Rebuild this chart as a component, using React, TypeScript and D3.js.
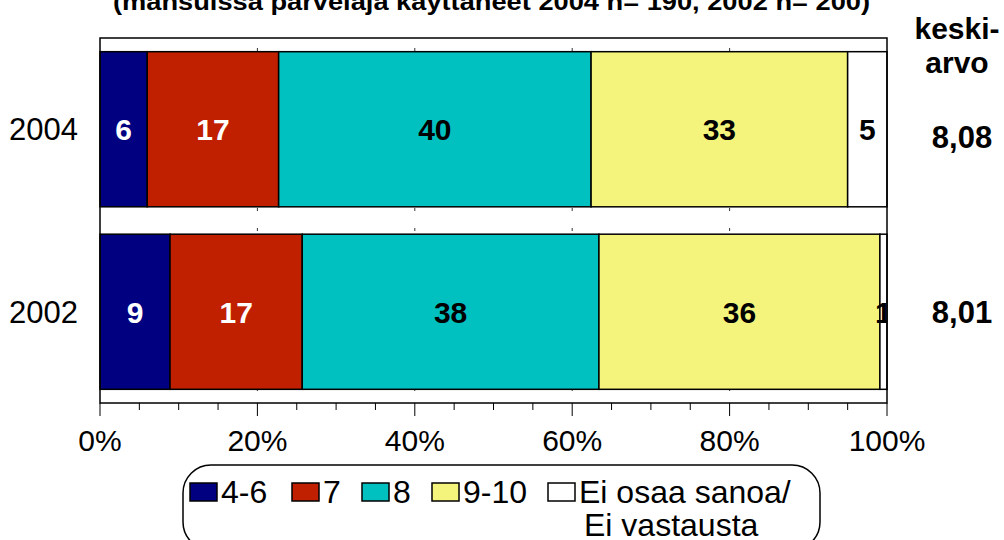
import React from 'react';
import * as d3 from 'd3';

const years = ['2004', '2002'];
const categories = ['4-6', '7', '8', '9-10', 'Ei osaa sanoa/\nEi vastausta'];
const values2004 = [6.0, 16.7, 39.7, 32.6, 5.0];
const values2002 = [8.9, 16.8, 37.7, 35.7, 0.9];
const labels2004 = ['6', '17', '40', '33', '5'];
const labels2002 = ['9', '17', '38', '36', '1'];
const means = ['8,08', '8,01'];
const meanHeader = ['keski-', 'arvo'];
const xTickValues = [0, 20, 40, 60, 80, 100];
const title = '(mansuissa parvelaja käyttäneet 2004 n= 190, 2002 n= 200)';

const colors = ['#000080', '#C02000', '#00C0C0', '#F4F47C', '#FFFFFF'];
const labelColors = ['#FFFFFF', '#FFFFFF', '#000000', '#000000', '#000000'];

const FONT = '"Liberation Sans", Arial, sans-serif';

export default function App() {
  const W = 1004, H = 540;
  const left = 100, right = 887, top = 38, bottom = 403;
  const x = d3.scaleLinear().domain([0, 100]).range([left, right]);
  const y = d3.scaleBand<string>().domain(years).range([top, bottom]).paddingInner(0.15).paddingOuter(0.075);

  const rows = [values2004, values2002].map((vals, i) => {
    const o: any = { year: years[i] };
    vals.forEach((v, j) => (o['c' + j] = v));
    return o;
  });
  const keys = categories.map((_, j) => 'c' + j);
  const stacked = d3.stack().keys(keys)(rows);
  const labels = [labels2004, labels2002];

  const minorTicks = d3.range(0, 101, 5);
  const gridTicks = xTickValues.filter(t => t > 0 && t < 100);

  const legendSwatchX = [190, 292, 362, 432, 548];
  const bw = y.bandwidth();

  return (
    <svg width={W} height={H} style={{ position: 'absolute', left: 0, top: 0, background: '#fff' }} fontFamily={FONT}>
      <defs>
        <clipPath id="plotClip">
          <rect x={left} y={top} width={right - left} height={bottom - top} />
        </clipPath>
      </defs>
      <rect x={0} y={0} width={W} height={H} fill="#fff" />
      <text x={113} y={10} fontSize={24} fontWeight="bold" textLength={757} lengthAdjust="spacingAndGlyphs">{title}</text>

      {/* gridlines */}
      {gridTicks.map(t => (
        <line key={'g' + t} x1={x(t)} x2={x(t)} y1={top + 2} y2={bottom} stroke="#333" strokeWidth={1} strokeDasharray="3,17" strokeDashoffset={-8} />
      ))}

      {/* bars */}
      {stacked.map((series, j) => (
        <g key={series.key}>
          {series.map((d: any, i: number) => (
            <rect key={i} x={x(d[0])} y={y(years[i])} width={x(d[1]) - x(d[0])} height={bw}
              fill={colors[j]} stroke="#000" strokeWidth={1.5} />
          ))}
        </g>
      ))}

      {/* segment labels */}
      <g clipPath="url(#plotClip)">
        {stacked.map((series, j) => (
          <g key={'l' + series.key}>
            {series.map((d: any, i: number) => (
              <text key={i} x={(x(d[0]) + x(d[1])) / 2} y={(y(years[i]) as number) + bw / 2 + 11}
                textAnchor="middle" fontSize={30} fontWeight="bold" fill={labelColors[j]}>{labels[i][j]}</text>
            ))}
          </g>
        ))}
      </g>

      {/* plot border */}
      <rect x={left} y={top} width={right - left} height={bottom - top} fill="none" stroke="#000" strokeWidth={1.5} />

      {/* x axis ticks */}
      {minorTicks.map(t => (
        <line key={'t' + t} x1={x(t)} x2={x(t)} y1={bottom} y2={bottom + (t % 20 === 0 ? 13 : 7)} stroke="#000" strokeWidth={1} />
      ))}
      {xTickValues.map(t => (
        <text key={'tl' + t} x={x(t)} y={451} textAnchor="middle" fontSize={30}>{t + '%'}</text>
      ))}

      {/* year labels */}
      {years.map(yr => (
        <text key={yr} x={78} y={(y(yr) as number) + bw / 2 + 11} textAnchor="end" fontSize={31}>{yr}</text>
      ))}

      {/* means */}
      <text x={957} y={39} textAnchor="middle" fontSize={30} fontWeight="bold">{meanHeader[0]}</text>
      <text x={957} y={73} textAnchor="middle" fontSize={30} fontWeight="bold">{meanHeader[1]}</text>
      {years.map((yr, i) => (
        <text key={'m' + yr} x={962} y={(y(yr) as number) + bw / 2 + 11 + (i === 0 ? 8 : 0)} textAnchor="middle" fontSize={31} fontWeight="bold">{means[i]}</text>
      ))}

      {/* legend */}
      <rect x={183} y={465} width={637} height={85} rx={28} ry={28} fill="#fff" stroke="#000" strokeWidth={1.5} />
      {categories.map((c, j) => {
        const sx = legendSwatchX[j];
        const lines = c.split('\n');
        return (
          <g key={'lg' + j}>
            <rect x={sx} y={483} width={27} height={18} fill={colors[j]} stroke="#000" strokeWidth={1.5} />
            {lines.map((ln, k) => (
              <text key={k} x={sx + 31 + k * 5} y={503 + k * 33} fontSize={32}>{ln}</text>
            ))}
          </g>
        );
      })}
    </svg>
  );
}
